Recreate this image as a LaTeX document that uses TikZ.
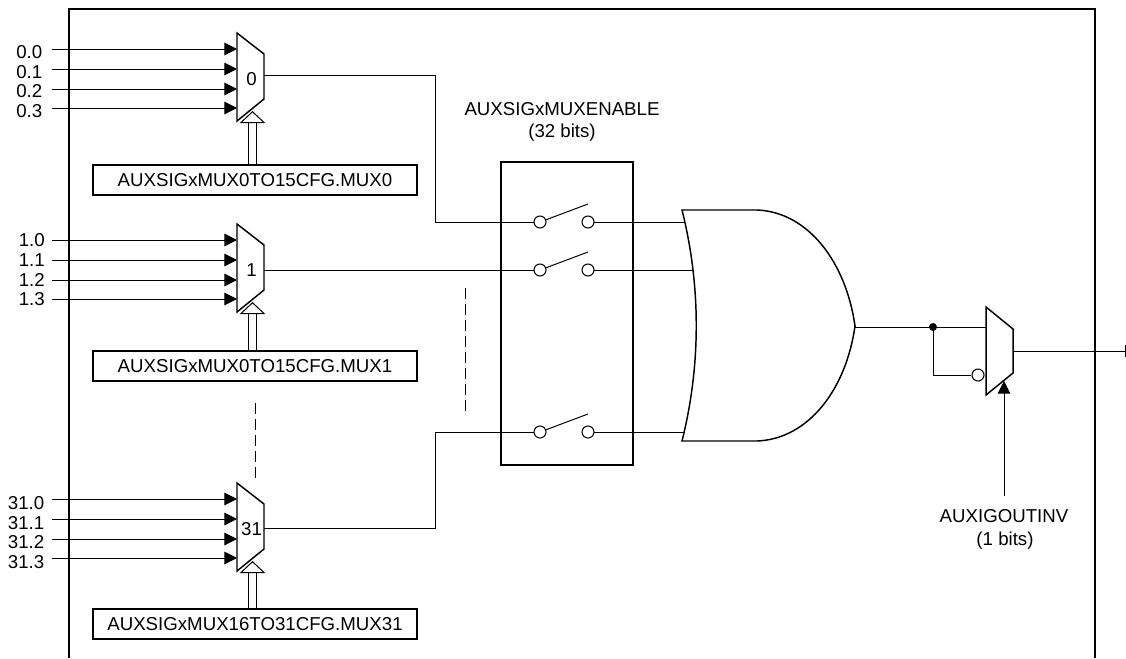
\documentclass[tikz,border=0pt]{standalone}
\usepackage{fontspec}
\setmainfont{Liberation Sans}
\usetikzlibrary{arrows.meta,calc}
\tikzset{
  x=0.75pt,y=-0.75pt,
  wire/.style={line width=0.75pt,line cap=butt},
  inwire/.style={wire,-{Triangle[length=9.5pt,width=9.5pt]}},
  heavy/.style={line width=1.8pt,draw=black,line join=miter},
  regbox/.style={heavy,fill=white,minimum width=243pt,minimum height=22.5pt,inner sep=0pt,font=\fontsize{14}{16}\selectfont},
  txt/.style={inner sep=0pt,font=\fontsize{14}{16}\selectfont},
  gate/.style={line width=1.1pt,fill=white,line join=miter},
  bus/.style={line width=0.75pt,double,double distance=4.6pt,-{Triangle[open,length=9pt,width=19pt,fill=white,line width=0.75pt]}},
  dashline/.style={line width=0.75pt,dash pattern=on 8pt off 4pt},
  ring/.style={circle,draw,line width=0.8pt,fill=white,minimum size=9pt,inner sep=0pt},
  dotnode/.style={circle,fill=black,minimum size=6pt,inner sep=0pt},
}
\newcommand{\muxlabels}[7]{%
  \node[txt,anchor=east] (#1-l0) at (#6,#2+#7) {#3};
  \node[txt,anchor=east] (#1-l1) at (#6,#2+#7+20.5) {#4};
  \node[txt,anchor=east] (#1-l2) at (#6,#2+#7+39.5) {#5};
}
\newcommand{\muxblock}[9]{%
  \muxlabels{#1}{#2}{#4}{#5}{#6}{\muxright}{#9}
  \node[txt,anchor=east] (#1-l3) at (\muxright,#2+#9+59.5) {#7};
  \coordinate (#1-s0) at (52,#2+16);
  \coordinate (#1-s1) at (52,#2+36);
  \coordinate (#1-s2) at (52,#2+56);
  \coordinate (#1-s3) at (52,#2+75);
  \draw[gate] (237,#2) coordinate (#1-tl) -- (264,#2+21) -- (264,#2+66) -- (237,#2+88) -- cycle;
  \coordinate (#1-o) at (264,#2+#8);
  \coordinate (#1-t) at (252.5,#2+78);
  \foreach \k in {0,1,2,3}{\draw[inwire] (#1-s\k) -- (#1-s\k -| #1-tl);}
  \node[txt] (#1-label) at (251.5,#2+46) {#3};
}
\newcommand{\switchrow}[2]{%
  \node[ring] (#1-a) at (540,#2) {};
  \node[ring] (#1-b) at (588,#2) {};
  \coordinate (#1-blade) at (588,#2-18);
  \draw[wire] (#1-a) -- (#1-blade);
}
\begin{document}
\begin{tikzpicture}
\useasboundingbox (0,0) rectangle (1126,658);
% frame
\draw[heavy] (69,658) -- (69,9) -- (1095,9) -- (1095,658);
% dashes
\coordinate (da) at (255,403); \coordinate (db) at (255,478);
\coordinate (dc) at (465,288); \coordinate (dd) at (465,411);
\draw[dashline] (da) -- (db);
\draw[dashline] (dc) -- (dd);
% muxes
\def\muxright{42.5}
\muxblock{m0}{33}{0}{0.0}{0.1}{0.2}{0.3}{42}{19}
\def\muxright{45}
\muxblock{m1}{224}{1}{1.0}{1.1}{1.2}{1.3}{46}{16}
\def\muxright{44.5}
\muxblock{m2}{483}{31}{31.0}{31.1}{31.2}{31.3}{45}{20}
% registers
\node[regbox] (r0) at (255,180) {AUXSIGxMUX0TO15CFG.MUX0};
\node[regbox] (r1) at (255,366) {AUXSIGxMUX0TO15CFG.MUX1};
\node[regbox] (r2) at (255,624) {AUXSIGxMUX16TO31CFG.MUX31};
\draw[bus] (r0.north -| m0-t) -- (m0-t);
\draw[bus] (r1.north -| m1-t) -- (m1-t);
\draw[bus] (r2.north -| m2-t) -- (m2-t);
% switch box
\node[heavy,fill=white,minimum width=99pt,minimum height=227.5pt,inner sep=0pt] (sw) at (567,313.5) {};
\node[txt] (en1) at (562,109) {AUXSIGxMUXENABLE};
\node[txt] (en2) at (562,133) {(32 bits)};
% wires to switches
\coordinate (k0) at (435,222);
\coordinate (k2) at (435,432);
\coordinate (s1w) at (534,270);
\coordinate (s0w) at (534,222);
\coordinate (s2w) at (534,432);
\draw[wire] (m0-o) -| (k0) -- (s0w);
\draw[wire] (m1-o) -- (s1w);
\draw[wire] (m2-o) -| (k2) -- (s2w);
% OR gate
\coordinate (g-tl) at (682,210);
\coordinate (g-bl) at (682,441);
\coordinate (g-out) at (855,326);
\coordinate (g-i0) at (685.5,222);
\coordinate (g-i1) at (693,270);
\coordinate (g-i2) at (685.5,432);
\draw[wire] (588,222) -- (g-i0);
\draw[wire] (588,270) -- (g-i1);
\draw[wire] (588,432) -- (g-i2);
\draw[gate] (g-tl) -- (757,210) .. controls (808,212) and (846,262) .. (g-out)
  .. controls (846,390) and (808,439) .. (757,441) -- (g-bl)
  .. controls (701,365) and (701,286) .. (g-tl) -- cycle;
\switchrow{s0}{222}
\switchrow{s1}{270}
\switchrow{s2}{432}
% output mux
\draw[gate] (986,307) coordinate (x-tl) -- (1013,329) -- (1013,373) -- (986,395) -- cycle;
\coordinate (x-i0) at (986,327);
\coordinate (x-o) at (1013,351);
\coordinate (x-end) at (1125,351);
\coordinate (x-c) at (1004,381);
\coordinate (x-f) at (1004,496);
\node[dotnode] (dot) at (933,327) {};
\node[ring] (inv) at (978,375) {};
\draw[wire] (g-out) -- (g-out |- x-i0) -- (x-i0);
\draw[wire] (dot) |- (inv);
\draw[wire] (x-o) -- (x-end);
\draw[wire] ($(x-end)+(0,-6)$) -- ($(x-end)+(0,6)$);
\node[txt] (ov1) at (1004,516) {AUXIGOUTINV};
\node[txt] (ov2) at (1005,541) {(1 bits)};
\draw[inwire] (x-f) -- (x-c);
\end{tikzpicture}
\end{document}
